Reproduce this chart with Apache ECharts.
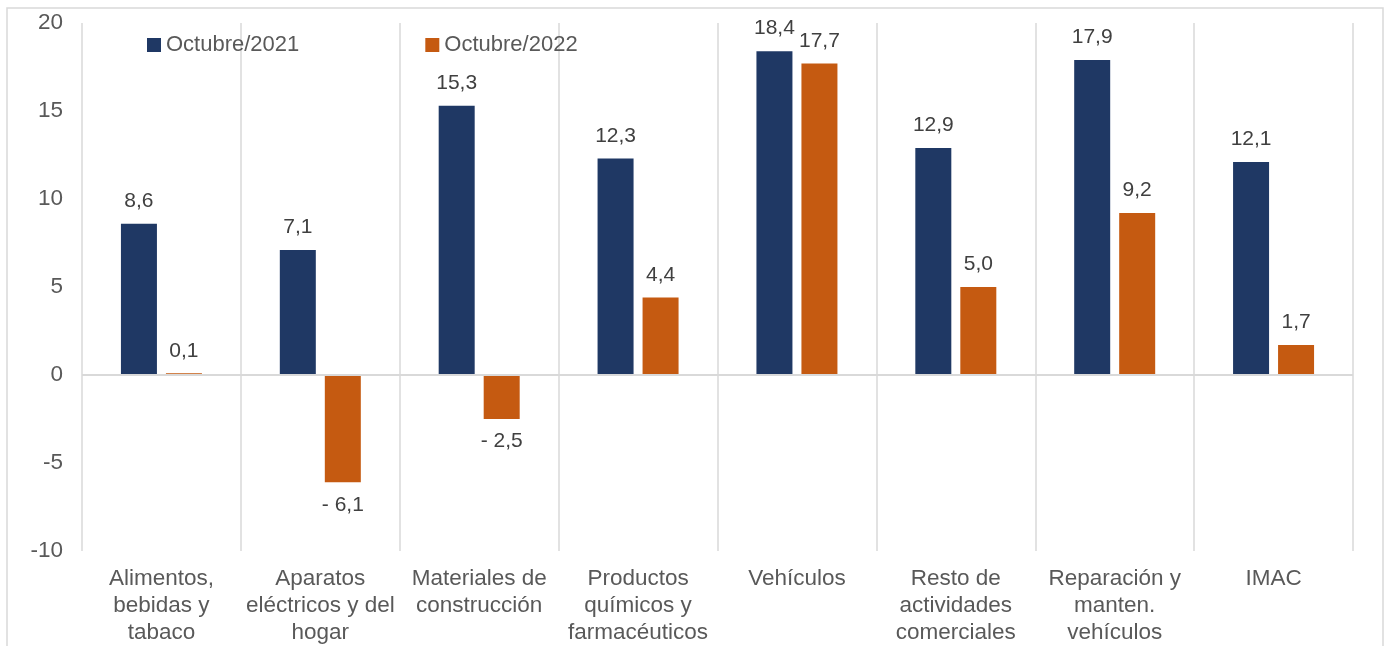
<!DOCTYPE html>
<html><head><meta charset="utf-8">
<script src="https://cdn.jsdelivr.net/npm/echarts@6/dist/echarts.min.js"></script>
<style>html,body{margin:0;padding:0;background:#fff}#c{width:1388px;height:646px}</style>
</head><body><div id="c"></div>
<script>
const categories = ["Alimentos,\nbebidas y\ntabaco","Aparatos\neléctricos y del\nhogar","Materiales de\nconstrucción","Productos\nquímicos y\nfarmacéuticos","Vehículos","Resto de\nactividades\ncomerciales","Reparación y\nmanten.\nvehículos","IMAC"];
const seriesNames = ["Octubre/2021","Octubre/2022"];
const oct2021 = [8.6, 7.1, 15.3, 12.3, 18.4, 12.9, 17.9, 12.1];
const oct2022 = [0.1, -6.1, -2.5, 4.4, 17.7, 5.0, 9.2, 1.7];
const yTicks = [-10, -5, 0, 5, 10, 15, 20];

const FONT = "Liberation Sans";
const fmt = v => (v < 0 ? "- " : "") + Math.abs(v).toFixed(1).replace(".", ",");
const mk = arr => arr.map(v => ({value: v, label: {position: v < 0 ? "bottom" : "top"}}));

const chart = echarts.init(document.getElementById("c"), null, {renderer: "canvas"});
chart.setOption({
  animation: false,
  backgroundColor: "#ffffff",
  graphic: [{type: "rect", shape: {x: 7, y: 8, width: 1376, height: 660}, style: {fill: "none", stroke: "#d9d9d9", lineWidth: 1.5}, silent: true, z: -1}],
  legend: {
    data: seriesNames, left: 142, top: 29, itemWidth: 14, itemHeight: 14, itemGap: 126,
    icon: "rect", textStyle: {fontFamily: FONT, fontSize: 22, color: "#595959"}
  },
  grid: {left: 82, right: 35, top: 23, bottom: 87, containLabel: false},
  xAxis: {
    type: "category", data: categories,
    axisLine: {show: false}, axisTick: {show: false},
    splitLine: {show: true, interval: 0, lineStyle: {color: "#d9d9d9", width: 1.5}},
    axisLabel: {interval: 0, margin: 14, fontFamily: FONT, fontSize: 22.5, color: "#595959", lineHeight: 27}
  },
  yAxis: {
    type: "value", min: yTicks[0], max: yTicks[yTicks.length - 1], interval: 5,
    axisLine: {show: false}, axisTick: {show: false}, splitLine: {show: false},
    axisLabel: {margin: 19, fontFamily: FONT, fontSize: 22.5, color: "#595959"}
  },
  series: [
    {
      name: seriesNames[0], type: "bar", data: mk(oct2021), barWidth: 36, barGap: "25%",
      itemStyle: {color: "#1f3864"},
      label: {show: true, distance: 12, fontFamily: FONT, fontSize: 21, color: "#404040", formatter: p => fmt(p.value)},
      markLine: {silent: true, symbol: "none", label: {show: false}, lineStyle: {color: "#d9d9d9", width: 2, type: "solid"}, data: [{yAxis: 0}]}
    },
    {
      name: seriesNames[1], type: "bar", data: mk(oct2022), barWidth: 36, barGap: "25%",
      itemStyle: {color: "#c55a11"},
      label: {show: true, distance: 12, fontFamily: FONT, fontSize: 21, color: "#404040", formatter: p => fmt(p.value)}
    }
  ]
});
</script></body></html>
